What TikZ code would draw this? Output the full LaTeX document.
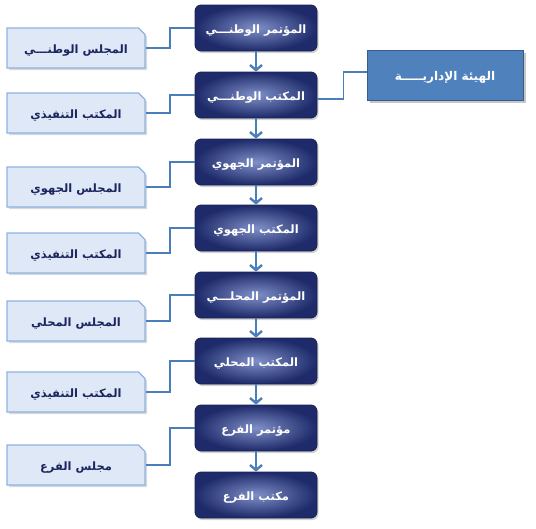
\documentclass[tikz,border=0pt]{standalone}
\usepackage{fontspec}
\usetikzlibrary{arrows.meta,shapes.misc,shadows}
\newfontfamily\arabicfont[Script=Arabic]{DejaVu Sans}
\TeXXeTstate=1
\definecolor{navy}{HTML}{1E2A6A}
\definecolor{navylight}{HTML}{7F90C8}
\definecolor{linkblue}{HTML}{4A7EBB}
\definecolor{paleblue}{HTML}{DFE8F6}
\definecolor{edgeblue}{HTML}{8DB3E2}
\definecolor{midblue}{HTML}{4F81BD}
\definecolor{darkblue}{HTML}{385D8A}
\newcommand{\ar}[1]{\raisebox{-3pt}{\arabicfont\bfseries\beginR #1\endR}}

\begin{document}
\begin{tikzpicture}[x=1pt,y=1pt,
  every node/.style={text height=5pt, text depth=0pt},
  level/.style={rounded corners=6pt, draw=navy!80!black, line width=0.8pt,
    inner color=navylight, outer color=navy, text=white,
    minimum width=122pt, minimum height=46pt, inner sep=0pt,
    font=\fontsize{11.5}{13}\selectfont,
    drop shadow={shadow xshift=1.5pt, shadow yshift=-2pt, opacity=0.35}},
  council/.style={chamfered rectangle, chamfered rectangle corners=north east,
    chamfered rectangle xsep=4pt, chamfered rectangle ysep=4pt,
    draw=edgeblue, line width=1.2pt, fill=paleblue, text=navy!90!black,
    minimum width=138pt, minimum height=40pt, inner sep=0pt,
    font=\fontsize{11.5}{13}\selectfont,
    drop shadow={shadow xshift=2pt, shadow yshift=-2pt, opacity=0.3}},
  admin/.style={draw=darkblue, line width=0.8pt, fill=midblue, text=white,
    minimum width=156pt, minimum height=50pt, inner sep=0pt,
    font=\fontsize{12}{14}\selectfont,
    drop shadow={shadow xshift=2.5pt, shadow yshift=-2.5pt, opacity=0.45}},
  link/.style={draw=linkblue, line width=1.8pt},
  flow/.style={draw=linkblue, line width=2.4pt, -{Straight Barb[length=5pt,width=12pt]}}]
\useasboundingbox (0,0) rectangle (536,-528);

% main column
\node[level] (m1) at (256,-28) {\ar{المؤتمر الوطنـــي}};
\node[level] (m2) at (256,-95) {\ar{المكتب الوطنـــي}};
\node[level] (m3) at (256,-162) {\ar{المؤتمر الجهوي}};
\node[level] (m4) at (256,-228) {\ar{المكتب الجهوي}};
\node[level] (m5) at (256,-295) {\ar{المؤتمر المحلـــي}};
\node[level] (m6) at (256,-361) {\ar{المكتب المحلي}};
\node[level] (m7) at (256,-428) {\ar{مؤتمر الفرع}};
\node[level] (m8) at (256,-495) {\ar{مكتب الفرع}};

% councils on the left
\node[council] (c1) at (76,-48) {\ar{المجلس الوطنـــي}};
\node[council] (c2) at (76,-113) {\ar{المكتب التنفيذي}};
\node[council] (c3) at (76,-187) {\ar{المجلس الجهوي}};
\node[council] (c4) at (76,-253) {\ar{المكتب التنفيذي}};
\node[council] (c5) at (76,-321) {\ar{المجلس المحلي}};
\node[council] (c6) at (76,-392) {\ar{المكتب التنفيذي}};
\node[council] (c7) at (76,-465) {\ar{مجلس الفرع}};

\node[admin] (adm) at (445,-75) {\ar{الهيئة الإداريـــــة}};

% arrows down the column
\draw[flow] (m1) -- (m2);
\draw[flow] (m2) -- (m3);
\draw[flow] (m3) -- (m4);
\draw[flow] (m4) -- (m5);
\draw[flow] (m5) -- (m6);
\draw[flow] (m6) -- (m7);
\draw[flow] (m7) -- (m8);

% elbow links
\draw[link] (m1.west) -- ++(-25,0) |- (c1.east);
\draw[link] (m2.west) -- ++(-25,0) |- (c2.east);
\draw[link] (m3.west) -- ++(-25,0) |- (c3.east);
\draw[link] (m4.west) -- ++(-25,0) |- (c4.east);
\draw[link] (m5.west) -- ++(-25,0) |- (c5.east);
\draw[link] (m6.west) -- ++(-25,0) |- (c6.east);
\draw[link] (m7.west) -- ++(-25,0) |- (c7.east);
\draw[link] ([yshift=-4pt]m2.east) -- ++(26,0) |- ([yshift=3pt]adm.west);
\end{tikzpicture}
\end{document}
